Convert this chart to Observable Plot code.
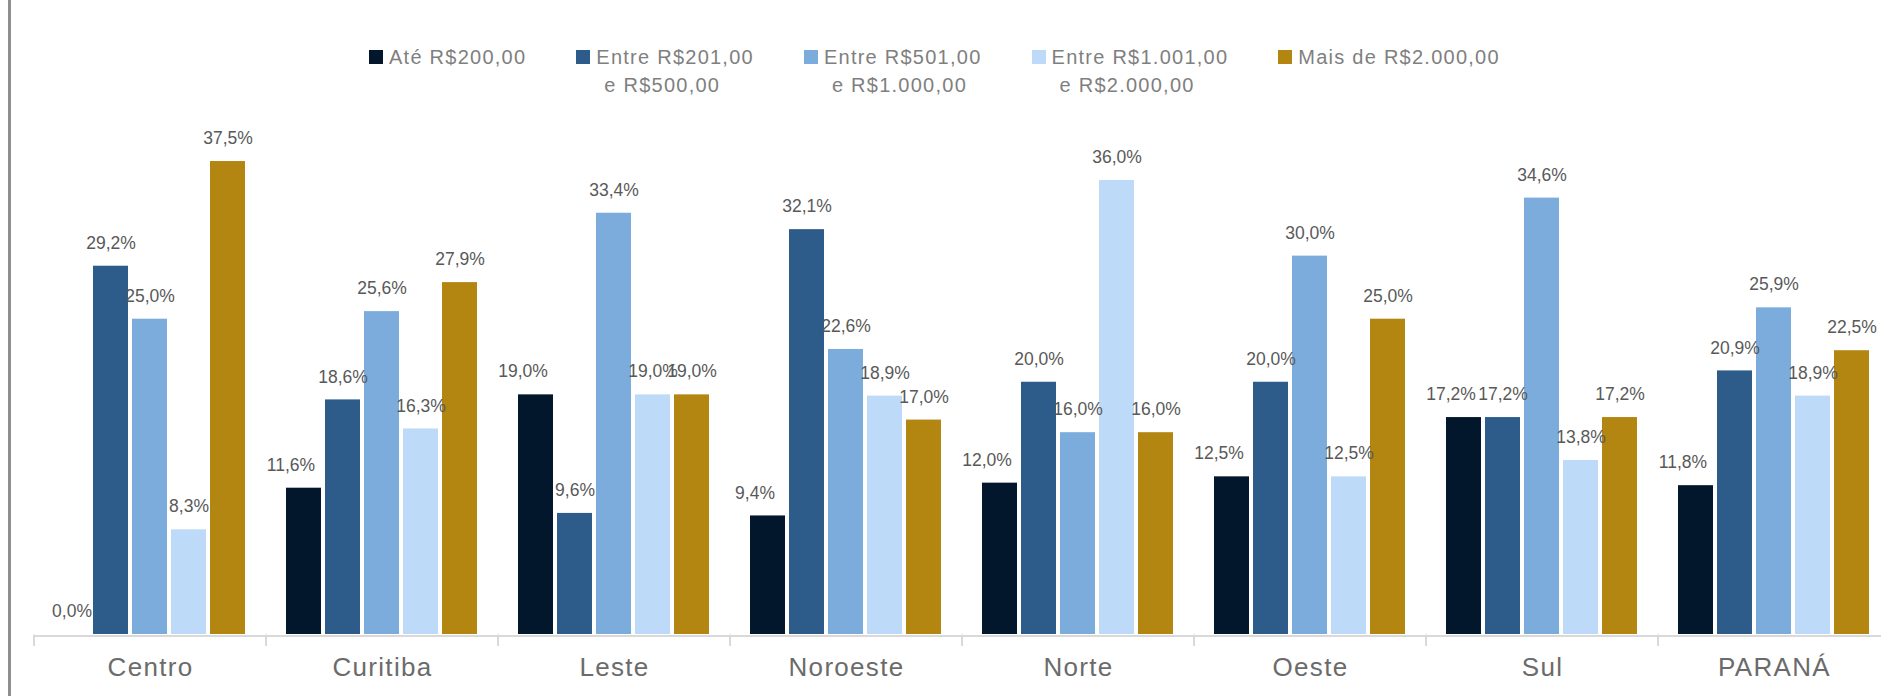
<!DOCTYPE html>
<html>
<head>
<meta charset="utf-8">
<script src="https://cdn.jsdelivr.net/npm/d3@7"></script>
<script src="https://cdn.jsdelivr.net/npm/@observablehq/plot@0.6"></script>
<style>
  html, body { margin: 0; padding: 0; background: #fff; overflow: hidden; }
  #wrap { position: relative; width: 1881px; height: 696px; overflow: hidden; font-family: "Liberation Sans", Arial, sans-serif; }
  #border { position: absolute; left: 8px; top: 0; width: 3px; height: 696px; background: #8f8f8f; }
  #legend { height: 100px; box-sizing: border-box; padding-top: 43px; padding-left: 369px; display: flex; gap: 50px; color: #7f7f7f; font-size: 20px; line-height: 28px; letter-spacing: 1.25px; }
  .item { display: flex; align-items: flex-start; }
  .sw { width: 14px; height: 14px; margin-top: 7px; margin-right: 6px; flex: none; }
  .l2 { padding-left: 8px; }
  #chart svg { display: block; overflow: visible; max-width: none !important; }
  g[aria-label="fx-axis tick label"] text { letter-spacing: 1.3px; }
</style>
</head>
<body>
<div id="wrap">
  <div id="legend"></div>
  <div id="chart"></div>
  <div id="border"></div>
</div>
<script>
const regions = ["Centro", "Curitiba", "Leste", "Noroeste", "Norte", "Oeste", "Sul", "PARANÁ"];
const series = ["Até R$200,00", "Entre R$201,00 e R$500,00", "Entre R$501,00 e R$1.000,00", "Entre R$1.001,00 e R$2.000,00", "Mais de R$2.000,00"];
const legendLines = [["Até R$200,00"], ["Entre R$201,00", "e R$500,00"], ["Entre R$501,00", "e R$1.000,00"], ["Entre R$1.001,00", "e R$2.000,00"], ["Mais de R$2.000,00"]];
const ate200       = [0.0, 11.6, 19.0, 9.4, 12.0, 12.5, 17.2, 11.8];
const entre201_500 = [29.2, 18.6, 9.6, 32.1, 20.0, 20.0, 17.2, 20.9];
const entre501_1000 = [25.0, 25.6, 33.4, 22.6, 16.0, 30.0, 34.6, 25.9];
const entre1001_2000 = [8.3, 16.3, 19.0, 18.9, 36.0, 12.5, 13.8, 18.9];
const mais2000     = [37.5, 27.9, 19.0, 17.0, 16.0, 25.0, 17.2, 22.5];
const colors = ["#03172c", "#2e5c8a", "#7bacdb", "#bddbf8", "#b38511"];

const seriesValues = [ate200, entre201_500, entre501_1000, entre1001_2000, mais2000];
const data = [];
regions.forEach((r, i) => {
  series.forEach((s, j) => data.push({region: r, series: s, idx: j, value: seriesValues[j][i]}));
});
const fmt = v => v.toFixed(1).replace(".", ",") + "%";

// Legend
const legend = d3.select("#legend");
series.forEach((s, j) => {
  const it = legend.append("div").attr("class", "item");
  it.append("div").attr("class", "sw").style("background", colors[j]);
  const t = it.append("div");
  legendLines[j].forEach((ln, k) => t.append("div").attr("class", k ? "l2" : null).text(ln));
});

// Excel nudges the first series' labels to the left
const shifted = d => d.idx === 0 && d.value > 0;
const labelOpts = {fx: "region", x: "series", y: "value", text: d => fmt(d.value), dy: -23, lineAnchor: "middle", fill: "#595959", fontSize: 17.5};

const plot = Plot.plot({
  width: 1893,
  height: 596,
  marginLeft: 30,
  marginRight: 0,
  marginTop: 29.5,
  marginBottom: 62,
  style: {fontFamily: "'Liberation Sans', Arial, sans-serif", background: "transparent", overflow: "visible"},
  fx: {domain: regions, padding: 0, label: null},
  x: {domain: series, paddingInner: 0.1, paddingOuter: 0.48, axis: null},
  y: {domain: [0, 40], axis: null},
  color: {domain: series, range: colors},
  marks: [
    Plot.barY(data, {fx: "region", x: "series", y: "value", fill: "series"}),
    Plot.ruleY([0], {stroke: "#d9d9d9", strokeWidth: 2, dy: 1.5}),
    Plot.text(data.filter(d => !shifted(d)), labelOpts),
    Plot.text(data.filter(shifted), {...labelOpts, dx: -13}),
    Plot.axisFx({anchor: "bottom", tickSize: 0, tickPadding: 23, fontSize: 26, color: "#6b6b6b", label: null})
  ]
});
document.getElementById("chart").append(plot);

// group separators below the baseline, from the fx scale
const fx = plot.scale("fx");
const y = plot.scale("y");
const y0 = y.apply(0);
const edges = regions.map(r => fx.apply(r)).concat([fx.apply(regions[regions.length - 1]) + fx.bandwidth]);
d3.select(plot).append("g")
  .selectAll("line").data(edges).join("line")
  .attr("x1", d => d).attr("x2", d => d)
  .attr("y1", y0 + 0.5).attr("y2", y0 + 12)
  .attr("stroke", "#d9d9d9").attr("stroke-width", 2);
</script>
</body>
</html>
